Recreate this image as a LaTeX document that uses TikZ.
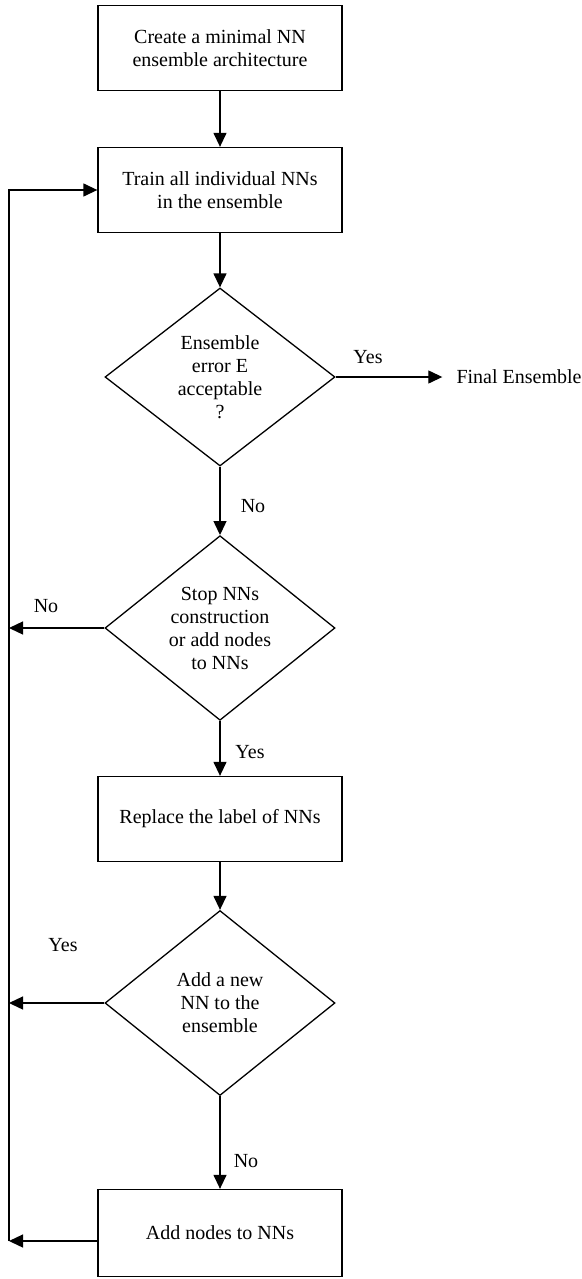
\documentclass[tikz,border=0pt]{standalone}
\usepackage{fontspec}
\setmainfont{Liberation Serif}
\usetikzlibrary{shapes.geometric,arrows.meta}
\tikzset{
  stepbox/.style={draw, rectangle, minimum width=244pt, minimum height=85pt, align=center, line width=1.3pt},
  decision/.style={draw, diamond, minimum width=230pt, minimum height=178pt, inner sep=0pt, align=center, line width=1.3pt},
  arr/.style={line width=1.3pt, -{Triangle[length=14pt,width=13pt]}},
  lbl/.style={inner sep=0pt}
}
\begin{document}
\begin{tikzpicture}[x=1pt,y=-1pt,font=\fontsize{20}{23}\selectfont]
      \useasboundingbox (0,0) rectangle (581,1279);
      % main column
      \node[stepbox] (create) at (220,48) {Create a minimal NN\\ensemble architecture};
      \node[stepbox] (train) at (220,190) {Train all individual NNs\\in the ensemble};
      \node[decision] (errok) at (220,377) {Ensemble\\error E\\acceptable\\?};
      \node[decision] (stopadd) at (220,628) {Stop NNs\\construction\\or add nodes\\to NNs};
      \node[stepbox] (replace) at (220,819) {Replace the label of NNs};
      \node[decision, minimum height=185pt] (addnew) at (220,1003) {Add a new\\NN to the\\ensemble};
      \node[stepbox, minimum height=87pt] (addnodes) at (220,1233) {Add nodes to NNs};
      \node[lbl] (final) at (519,377) {Final Ensemble};
      \coordinate (back) at (9,1241);
      % labels
      \node[lbl] (yes1) at (368,357) {Yes};
      \node[lbl] (no1) at (253,506) {No};
      \node[lbl] (no2) at (46,606) {No};
      \node[lbl] (yes2) at (250,752) {Yes};
      \node[lbl] (yes3) at (63,945) {Yes};
      \node[lbl] (no3) at (246,1161) {No};
      % connectors
      \draw[arr](create.south)--(train.north);
      \draw[arr](train.south)--(errok.north);
      \draw[arr](errok.east)--([xshift=-14pt]final.west);
      \draw[arr](errok.south)--(stopadd.north);
      \draw[arr](stopadd.south)--(replace.north);
      \draw[arr](replace.south)--(addnew.north);
      \draw[arr](addnew.south)--(addnodes.north);
      \draw[arr](stopadd.west)--(stopadd.west -| back);
      \draw[arr](addnew.west)--(addnew.west -| back);
      \draw[arr]([yshift=-8pt]addnodes.west)--(back);
      \draw[arr](back)|-(train.west);
    \end{tikzpicture}
\end{document}
